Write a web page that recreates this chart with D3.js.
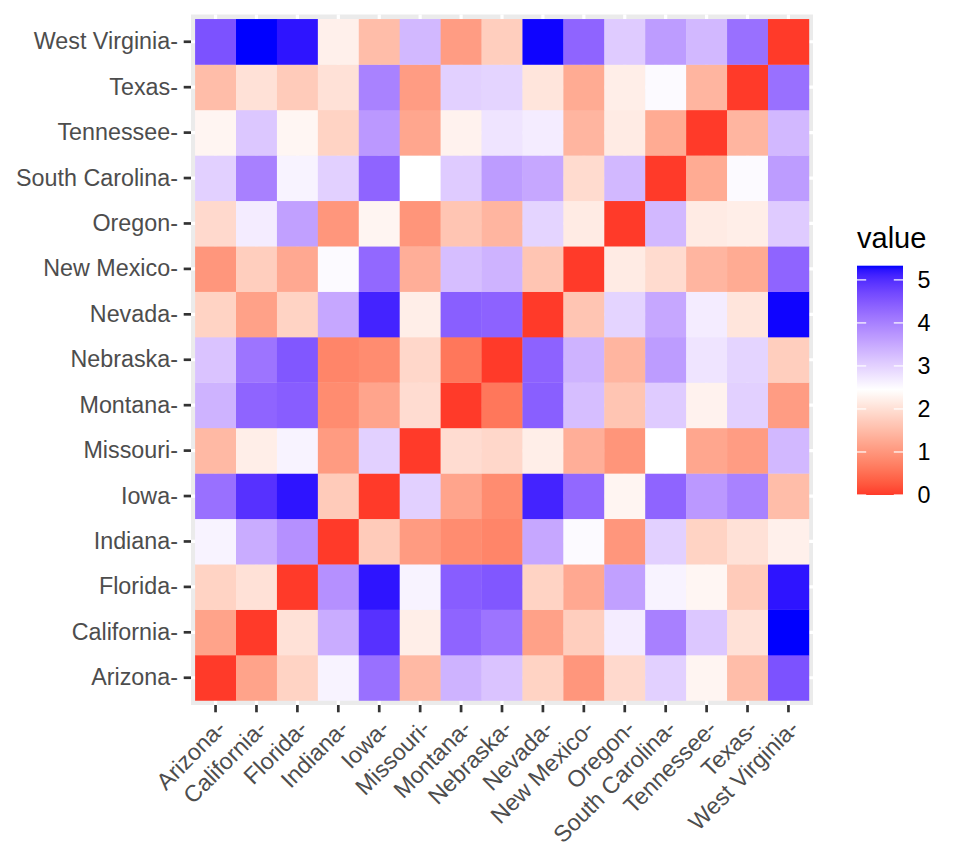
<!DOCTYPE html>
<html>
<head>
<meta charset="utf-8">
<script src="https://cdn.jsdelivr.net/npm/d3@7"></script>
<style>
  body { margin: 0; background: #fff; }
  text { font-family: "Liberation Sans", Arial, Helvetica, sans-serif; }
</style>
</head>
<body>
<div id="heatmap"></div>
<script>
// states, in the order used for both axes
var states = ["Arizona", "California", "Florida", "Indiana", "Iowa", "Missouri", "Montana",
    "Nebraska", "Nevada", "New Mexico", "Oregon", "South Carolina", "Tennessee", "Texas", "West Virginia"];

// lower triangle of the distance matrix: row i holds d(i, j) for j < i
var distRows = [
    [],
    [1.16],
    [1.82, 2.02],
    [2.59, 3.46, 3.80],
    [4.21, 4.96, 5.22, 1.71],
    [1.46, 2.21, 2.59, 1.06, 3.01],
    [3.37, 4.35, 4.44, 0.86, 1.18, 1.96],
    [3.17, 4.15, 4.52, 0.78, 0.86, 1.88, 0.61],
    [1.82, 1.14, 1.82, 3.52, 5.10, 2.21, 4.42, 4.38],
    [1.00, 1.75, 1.24, 2.51, 4.31, 1.32, 3.24, 3.37, 1.63],
    [1.91, 2.68, 3.60, 1.00, 2.31, 0.98, 1.63, 1.41, 2.97, 2.16],
    [3.01, 4.00, 2.59, 3.01, 4.35, 2.45, 3.07, 3.66, 3.52, 1.94, 3.31],
    [2.31, 3.13, 2.32, 1.82, 3.70, 1.21, 2.27, 2.77, 2.68, 1.41, 2.16, 1.27],
    [1.52, 2.02, 1.71, 2.02, 3.98, 1.08, 3.01, 2.97, 2.08, 1.27, 2.21, 2.51, 1.41],
    [4.58, 5.33, 5.22, 2.24, 1.52, 3.31, 1.08, 1.75, 5.31, 4.35, 3.07, 3.66, 3.31, 4.21]
];

var legendTicks = [0, 1, 2, 3, 4, 5];
var midpoint = 2.45;

// build the long table (row, col, value), mirrored
var cells = [];
for (i = 0; i < states.length; i++) {
    for (j = 0; j < states.length; j++) {
        var v = 0;
        if (j < i) v = distRows[i][j];
        else if (j > i) v = distRows[j][i];
        cells.push({row: states[i], col: states[j], value: v});
    }
}
var maxVal = d3.max(cells, function(d) { return d.value; });

var svg = d3.select("#heatmap")
    .append("svg")
        .attr("width", 960)
        .attr("height", 864);

var panel = {left: 191, right: 813, top: 14.5, bottom: 705};

var x = d3.scaleBand()
    .range([panel.left, panel.right])
    .domain(states)
    .paddingInner(0)
    .paddingOuter(0.1);

var y = d3.scaleBand()
    .range([panel.bottom, panel.top])
    .domain(states)
    .paddingInner(0)
    .paddingOuter(0.1);

// red - white - blue, interpolated in Lab like ggplot
var lowCol = "#ff3a29", midCol = "#ffffff", highCol = "#0000ff";
var myColor = d3.scaleLinear()
    .domain([0, midpoint, maxVal])
    .range([lowCol, midCol, highCol])
    .interpolate(d3.interpolateLab);

// panel background + grid
svg.append("rect")
    .attr("x", panel.left)
    .attr("y", panel.top)
    .attr("width", panel.right - panel.left)
    .attr("height", panel.bottom - panel.top)
    .attr("fill", "#ebebeb");

svg.selectAll(".vgrid")
    .data(states)
    .enter()
    .append("line")
    .attr("x1", function(d) { return x(d) + x.bandwidth() / 2; })
    .attr("x2", function(d) { return x(d) + x.bandwidth() / 2; })
    .attr("y1", panel.top)
    .attr("y2", panel.bottom)
    .attr("stroke", "#fff")
    .attr("stroke-width", 3.2);

svg.selectAll(".hgrid")
    .data(states)
    .enter()
    .append("line")
    .attr("y1", function(d) { return y(d) + y.bandwidth() / 2; })
    .attr("y2", function(d) { return y(d) + y.bandwidth() / 2; })
    .attr("x1", panel.left)
    .attr("x2", panel.right)
    .attr("stroke", "#fff")
    .attr("stroke-width", 3.2);

// tiles
svg.selectAll(".square")
    .data(cells)
    .enter()
    .append("rect")
    .attr("class", "square")
    .attr("x", function(d) { return x(d.col); })
    .attr("y", function(d) { return y(d.row); })
    .attr("width", x.bandwidth() + 0.3)
    .attr("height", y.bandwidth() + 0.3)
    .style("fill", function(d) { return myColor(d.value); });

// axes
var axisFont = "23.3px";

var yAxis = svg.append("g")
    .attr("transform", "translate(" + panel.left + ",0)")
    .call(d3.axisLeft(y).tickSize(7.3).tickPadding(5.8).tickFormat(function(d) { return d + "-"; }));

var xAxis = svg.append("g")
    .attr("transform", "translate(0," + panel.bottom + ")")
    .call(d3.axisBottom(x).tickSize(7.3).tickPadding(5.8).tickFormat(function(d) { return d + "-"; }));

[xAxis, yAxis].forEach(function(ax) {
    ax.select(".domain").remove();
    ax.selectAll(".tick line").attr("stroke", "#333333").attr("stroke-width", 2.7);
    ax.selectAll(".tick text")
        .attr("fill", "#4d4d4d")
        .style("font-size", axisFont)
        .style("font-family", "'Liberation Sans', Arial, Helvetica, sans-serif");
});

xAxis.selectAll(".tick text")
    .attr("y", 0)
    .attr("x", 0)
    .attr("dy", "0.71em")
    .attr("text-anchor", "end")
    .attr("transform", "translate(0,13.1) rotate(-45)");

// legend
var legend = {x: 857, top: 265.7, bottom: 495, width: 46};

var ly = d3.scaleLinear()
    .domain([0, maxVal])
    .range([legend.bottom, legend.top]);

var grad = svg.append("defs")
    .append("linearGradient")
    .attr("id", "legendGrad")
    .attr("x1", 0).attr("y1", 1)
    .attr("x2", 0).attr("y2", 0);

d3.range(0, 1.0001, 0.02).forEach(function(t) {
    grad.append("stop")
        .attr("offset", t)
        .attr("stop-color", myColor(t * maxVal));
});

svg.append("rect")
    .attr("x", legend.x)
    .attr("y", legend.top)
    .attr("width", legend.width)
    .attr("height", legend.bottom - legend.top)
    .attr("fill", "url(#legendGrad)");

// white tick marks on both edges of the bar
svg.selectAll(".ltickL")
    .data(legendTicks)
    .enter()
    .append("line")
    .attr("x1", legend.x)
    .attr("x2", legend.x + legend.width / 5)
    .attr("y1", function(d) { return ly(d); })
    .attr("y2", function(d) { return ly(d); })
    .attr("stroke", "#fff")
    .attr("stroke-width", 1.2);

svg.selectAll(".ltickR")
    .data(legendTicks)
    .enter()
    .append("line")
    .attr("x1", legend.x + legend.width)
    .attr("x2", legend.x + legend.width * 4 / 5)
    .attr("y1", function(d) { return ly(d); })
    .attr("y2", function(d) { return ly(d); })
    .attr("stroke", "#fff")
    .attr("stroke-width", 1.2);

svg.selectAll(".legendLabel")
    .data(legendTicks)
    .enter()
    .append("text")
    .attr("class", "legendLabel")
    .attr("x", legend.x + legend.width + 14.5)
    .attr("y", function(d) { return ly(d); })
    .attr("dy", "0.36em")
    .style("font-size", "23.3px")
    .attr("fill", "#000")
    .text(function(d) { return d; });

svg.append("text")
    .attr("x", legend.x)
    .attr("y", 248)
    .style("font-size", "29px")
    .attr("fill", "#000")
    .text("value");
</script>
</body>
</html>
